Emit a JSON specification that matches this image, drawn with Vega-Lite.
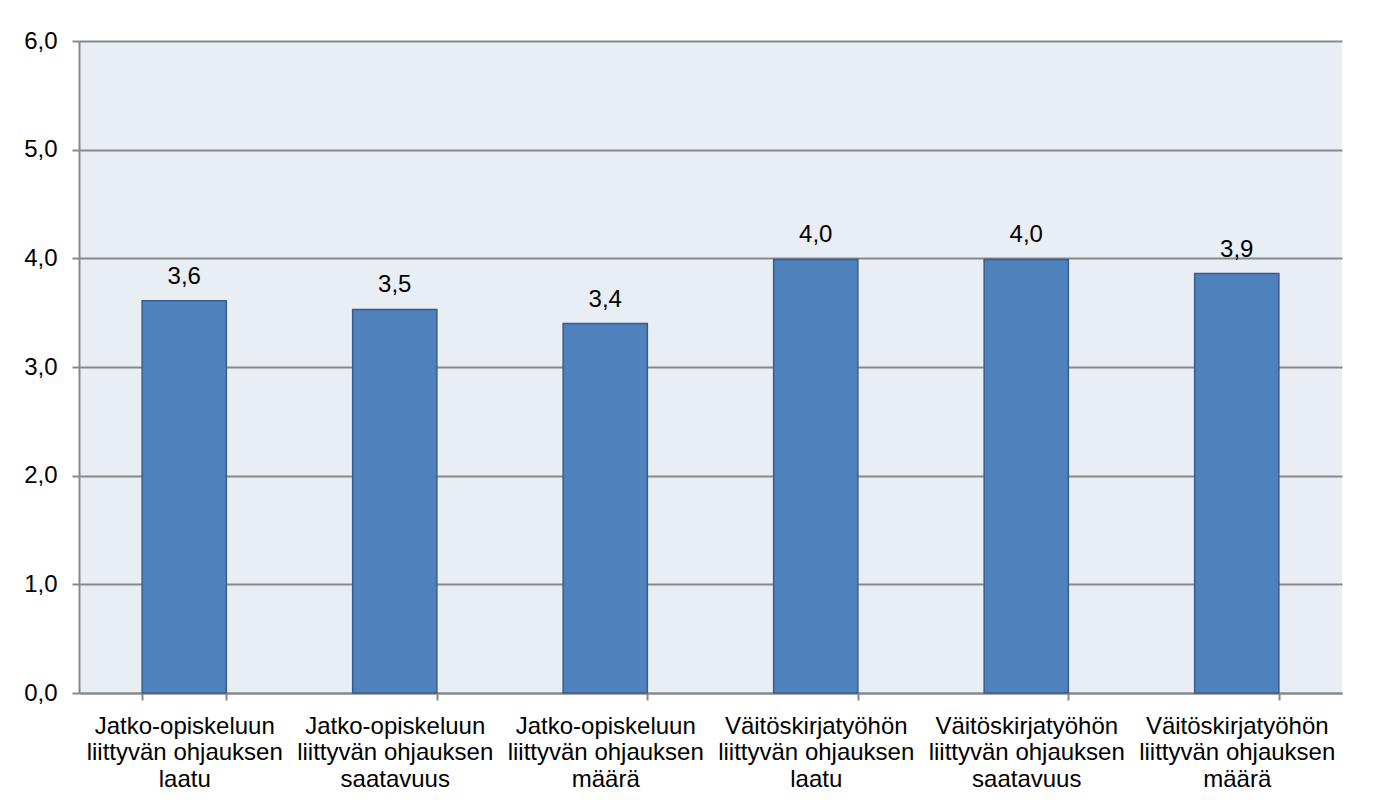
{
  "$schema": "https://vega.github.io/schema/vega-lite/v6.json",
  "width": 1263,
  "height": 652,
  "autosize": {"type": "none"},
  "padding": {"left": 79, "top": 41, "right": 37, "bottom": 107},
  "background": "white",
  "config": {
    "locale": {"number": {"decimal": ",", "thousands": "\u00a0", "grouping": [3], "currency": ["", "\u00a0€"]}},
    "view": {"fill": "#E9EDF4", "stroke": null},
    "font": "Liberation Sans"
  },
  "data": {
    "values": [
      {"kategoria": "Jatko-opiskeluun|liittyvän ohjauksen|laatu", "arvo": 3.61},
      {"kategoria": "Jatko-opiskeluun|liittyvän ohjauksen|saatavuus", "arvo": 3.53},
      {"kategoria": "Jatko-opiskeluun|liittyvän ohjauksen|määrä", "arvo": 3.40},
      {"kategoria": "Väitöskirjatyöhön|liittyvän ohjauksen|laatu", "arvo": 3.99},
      {"kategoria": "Väitöskirjatyöhön|liittyvän ohjauksen|saatavuus", "arvo": 3.99},
      {"kategoria": "Väitöskirjatyöhön|liittyvän ohjauksen|määrä", "arvo": 3.86}
    ]
  },
  "encoding": {
    "x": {
      "field": "kategoria",
      "type": "nominal",
      "sort": null,
      "scale": {"paddingInner": 0.6, "paddingOuter": 0.3},
      "axis": {
        "title": null,
        "labelExpr": "split(datum.label, '|')",
        "labelAngle": 0,
        "labelFontSize": 24,
        "labelLineHeight": 26.5,
        "labelColor": "black",
        "labelPadding": 14,
        "labelBaseline": "top",
        "labelLimit": 0,
        "labelOverlap": false,
        "labelBound": false,
        "tickSize": 7,
        "tickBand": "extent",
        "tickColor": "#898989",
        "tickWidth": 2,
        "domainColor": "#898989",
        "domainWidth": 2
      }
    },
    "y": {
      "field": "arvo",
      "type": "quantitative",
      "scale": {"domain": [0, 6], "nice": false},
      "axis": {
        "title": null,
        "values": [0, 1, 2, 3, 4, 5, 6],
        "format": ".1f",
        "labelFontSize": 24,
        "labelColor": "black",
        "labelPadding": 15,
        "tickSize": 7,
        "tickColor": "#898989",
        "tickWidth": 2,
        "gridColor": "#898989",
        "gridWidth": 2,
        "domainColor": "#898989",
        "domainWidth": 2
      }
    }
  },
  "layer": [
    {
      "mark": {"type": "bar", "fill": "#4F81BD", "stroke": "#385D8A", "strokeWidth": 1.5}
    },
    {
      "mark": {"type": "text", "dy": -17, "baseline": "alphabetic", "fontSize": 24, "color": "black"},
      "encoding": {"text": {"field": "arvo", "type": "quantitative", "format": ".1f"}}
    }
  ]
}
